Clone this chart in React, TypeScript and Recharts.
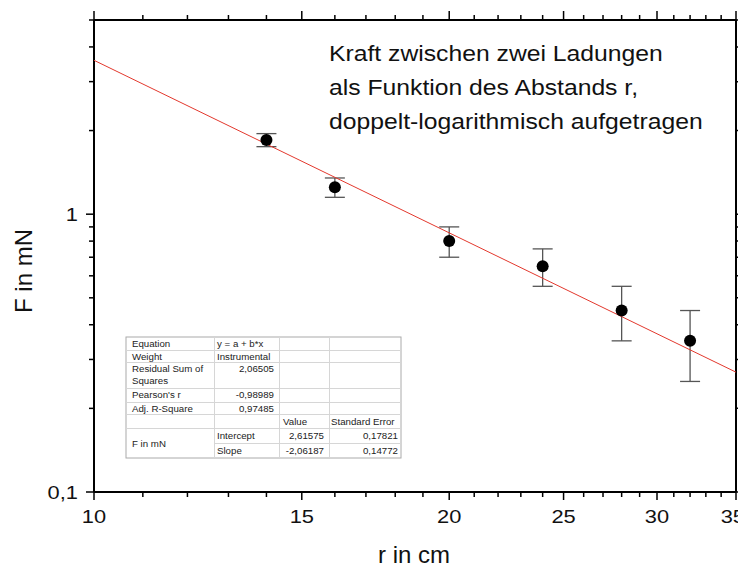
import { ScatterChart, Scatter, XAxis, YAxis, ErrorBar } from 'recharts'

// measured points (r in cm, F in mN, error in mN)
const distances = [14, 16, 20, 24, 28, 32]
const forces = [1.85, 1.25, 0.8, 0.65, 0.45, 0.35]
const forceErrors = [0.1, 0.1, 0.1, 0.1, 0.1, 0.1]

// ends of the fitted line
const fitDistances = [10, 35]
const fitForces = [3.58, 0.27]

const xTicks = [10, 11, 12, 13, 14, 15, 16, 17, 18, 19, 20, 21, 22, 23, 24, 25, 26, 27, 28, 29, 30, 31, 32, 33, 34, 35]
const xMajor = [10, 15, 20, 25, 30, 35]
const yTicks = [0.1, 0.2, 0.3, 0.4, 0.5, 0.6, 0.7, 0.8, 0.9, 1, 2, 3, 4, 5]
const yMajor = [0.1, 1]
const yLabels = ['0,1', '1']

const noteLines = ['Kraft zwischen zwei Ladungen', 'als Funktion des Abstands r,', 'doppelt-logarithmisch aufgetragen']

const statNames = ['Equation', 'Weight', 'Residual Sum of|Squares', "Pearson's r", 'Adj. R-Square']
const statValues = ['y = a + b*x', 'Instrumental', '2,06505', '-0,98989', '0,97485']
const paramNames = ['Intercept', 'Slope']
const paramValues = ['2,61575', '-2,06187']
const paramErrors = ['0,17821', '0,14772']

const FONT = '"Liberation Sans", Arial, sans-serif'
const STRETCH = 1.15

const points = distances.map((r, i) => ({ r, F: forces[i], err: forceErrors[i] }))
const fitData = fitDistances.map((r, i) => ({ r, F: fitForces[i] }))

function WideText({ x, y, anchor, size, children }: any) {
  return (
    <text
      transform={`translate(${x},${y}) scale(${STRETCH},1)`}
      textAnchor={anchor}
      fontFamily={FONT}
      fontSize={size}
      fill="#111"
    >
      {children}
    </text>
  )
}

function BottomTick({ x, y, payload }: any) {
  const major = xMajor.includes(payload.value)
  // the last label sits at the window edge, keep it inside
  const last = payload.value === xTicks[xTicks.length - 1]
  return (
    <g>
      <line x1={x} x2={x} y1={y} y2={y + (major ? 8 : 5)} stroke="#000" strokeWidth={1.5} />
      {major && (
        <WideText x={last ? x + 9 : x} y={y + 31} anchor={last ? 'end' : 'middle'} size={19}>
          {payload.value}
        </WideText>
      )}
    </g>
  )
}

function TopTick({ x, y, payload }: any) {
  const major = xMajor.includes(payload.value)
  return <line x1={x} x2={x} y1={y} y2={y - (major ? 9 : 5)} stroke="#000" strokeWidth={1.5} />
}

function LeftTick({ x, y, payload }: any) {
  const idx = yMajor.indexOf(payload.value)
  return (
    <g>
      <line x1={x} x2={x - (idx >= 0 ? 8 : 5)} y1={y} y2={y} stroke="#000" strokeWidth={1.5} />
      {idx >= 0 && <WideText x={x - 16} y={y + 7} anchor="end" size={19}>{yLabels[idx]}</WideText>}
    </g>
  )
}

function RightTick({ x, y, payload }: any) {
  const major = yMajor.includes(payload.value)
  return <line x1={x} x2={x + (major ? 9 : 5)} y1={y} y2={y} stroke="#000" strokeWidth={1.5} />
}

const colX = [118, 206, 271, 321, 393]
const rowY = [329, 342, 354, 380, 394, 406, 420, 435, 450]

function StatsTable() {
  const t = { fontFamily: FONT, fontSize: 9.7, fill: '#222' }
  return (
    <g>
      <rect x={colX[0]} y={rowY[0]} width={colX[4] - colX[0]} height={rowY[8] - rowY[0]} fill="#fff" stroke="#aaa" />
      {rowY.slice(1, 8).map((y, i) => (
        <line key={i} x1={i === 6 ? colX[1] : colX[0]} x2={colX[4]} y1={y + 0.5} y2={y + 0.5} stroke="#d6d6d6" />
      ))}
      {colX.slice(1, 4).map((x, i) => (
        <line key={i} x1={x + 0.5} x2={x + 0.5} y1={rowY[0]} y2={rowY[8]} stroke="#d6d6d6" />
      ))}
      {statNames.map((name, i) =>
        name.split('|').map((part, j) => (
          <text key={`${i}-${j}`} x={colX[0] + 6} y={rowY[i] + 10 + j * 12} {...t}>{part}</text>
        ))
      )}
      {statValues.map((v, i) =>
        i < 2 ? (
          <text key={i} x={colX[1] + 3} y={rowY[i] + 10} {...t}>{v}</text>
        ) : (
          <text key={i} x={colX[2] - 5} y={rowY[i] + 10} textAnchor="end" {...t}>{v}</text>
        )
      )}
      <text x={colX[2] + 4} y={rowY[5] + 11} {...t}>Value</text>
      <text x={colX[3] + 2} y={rowY[5] + 11} {...t}>Standard Error</text>
      <text x={colX[0] + 6} y={(rowY[6] + rowY[8]) / 2 + 4} {...t}>F in mN</text>
      {paramNames.map((n, i) => (
        <g key={n}>
          <text x={colX[1] + 3} y={rowY[6 + i] + 11} {...t}>{n}</text>
          <text x={colX[3] - 5} y={rowY[6 + i] + 11} textAnchor="end" {...t}>{paramValues[i]}</text>
          <text x={colX[4] - 3} y={rowY[6 + i] + 11} textAnchor="end" {...t}>{paramErrors[i]}</text>
        </g>
      ))}
    </g>
  )
}

export default function App() {
  const axisLine = { stroke: '#000', strokeWidth: 2 }
  return (
    <div style={{ position: 'relative', width: 738, height: 559 }}>
      <ScatterChart width={738} height={559} margin={{ top: 0, right: 0, bottom: 0, left: 0 }}>
        <XAxis
          xAxisId="bottom" type="number" dataKey="r" scale="log" domain={[10, 35]} allowDataOverflow
          ticks={xTicks} interval={0} height={75} tickSize={0} tickMargin={0} tickLine={false}
          axisLine={axisLine} tick={<BottomTick />}
        />
        <XAxis
          xAxisId="top" orientation="top" type="number" dataKey="r" scale="log" domain={[10, 35]} allowDataOverflow
          ticks={xTicks} interval={0} height={12} tickSize={0} tickMargin={0} tickLine={false}
          axisLine={axisLine} tick={<TopTick />}
        />
        <YAxis
          yAxisId="left" type="number" dataKey="F" scale="log" domain={[0.1, 5]} allowDataOverflow
          ticks={yTicks} interval={0} width={86} tickSize={0} tickMargin={0} tickLine={false}
          axisLine={axisLine} tick={<LeftTick />}
        />
        <YAxis
          yAxisId="right" orientation="right" type="number" dataKey="F" scale="log" domain={[0.1, 5]} allowDataOverflow
          ticks={yTicks} interval={0} width={10} tickSize={0} tickMargin={0} tickLine={false}
          axisLine={axisLine} tick={<RightTick />}
        />
        <Scatter
          data={fitData} xAxisId="bottom" yAxisId="left"
          line={{ stroke: '#e3382d', strokeWidth: 1 }} shape={() => <g />}
          isAnimationActive={false}
        />
        <Scatter
          data={points} xAxisId="bottom" yAxisId="left" fill="#000"
          shape={(p: any) => <circle cx={p.cx} cy={p.cy} r={6} fill="#000" />}
          isAnimationActive={false}
        >
          <ErrorBar dataKey="err" direction="y" width={10} stroke="#555" strokeWidth={1.3} isAnimationActive={false} />
        </Scatter>
      </ScatterChart>
      <svg width={738} height={559} style={{ position: 'absolute', left: 0, top: 0, pointerEvents: 'none' }}>
        {noteLines.map((line, i) => (
          <WideText key={i} x={321} y={53 + i * 34} anchor="start" size={21.5}>{line}</WideText>
        ))}
        <text transform="translate(24,263) rotate(-90)" textAnchor="middle" fontFamily={FONT} fontSize={24} fill="#111">F in mN</text>
        <text x={406} y={555} textAnchor="middle" fontFamily={FONT} fontSize={24} fill="#111">r in cm</text>
        <StatsTable />
      </svg>
    </div>
  )
}
